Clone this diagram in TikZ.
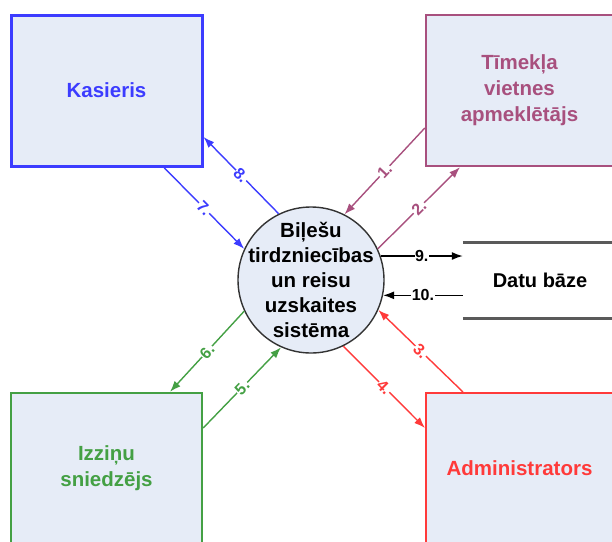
\documentclass[tikz,border=0pt]{standalone}
\usepackage{fontspec}
\setmainfont{Liberation Sans}
\usetikzlibrary{arrows.meta,calc}
\definecolor{fillc}{HTML}{E6ECF7}
\definecolor{cblue}{HTML}{3C3CFF}
\definecolor{cpurp}{HTML}{A8507E}
\definecolor{cgreen}{HTML}{44A044}
\definecolor{cred}{HTML}{FF3A3A}
\definecolor{cdark}{HTML}{333333}
\definecolor{cgray}{HTML}{5A5A5A}
\begin{document}
\begin{tikzpicture}[x=1pt,y=-1pt,
  ent/.style={rectangle, fill=fillc, minimum height=151pt, inner sep=0pt, align=center,
    font=\bfseries\fontsize{20.5}{26}\selectfont},
  flow/.style={line width=1.4pt, -{Latex[length=11pt,width=8pt]}},
  lbl/.style={midway, sloped, fill=white, inner sep=0.5pt, font=\bfseries\fontsize{16}{16}\selectfont},
  dbline/.style={draw=cgray, line width=2.8pt}
]
\useasboundingbox (0,0) rectangle (612,541);
\clip (0,0) rectangle (612,541);

\node[ent, draw=cblue, line width=3pt, text=cblue, minimum width=191pt] (kas) at (106.5,90.5) {Kasieris};
\node[ent, draw=cpurp, line width=2.4pt, text=cpurp, minimum width=187pt] (tim) at (519.5,90.5) {Tīmekļa\\vietnes\\apmeklētājs};
\node[ent, draw=cgreen, line width=2.4pt, text=cgreen, minimum width=191pt] (izz) at (106.5,468.5) {Izziņu\\sniedzējs};
\node[ent, draw=cred, line width=2pt, text=cred, minimum width=187pt] (adm) at (519.5,468.5) {Administrators};

\node[circle, draw=cdark, line width=1.4pt, fill=fillc, minimum size=146pt, inner sep=0pt,
  label={[align=center, inner sep=0pt, font=\bfseries\fontsize{20.5}{25}\selectfont]center:Biļešu\\tirdzniecības\\un reisu\\uzskaites\\sistēma}] (sys) at (311,280) {};

\node[minimum width=154pt, minimum height=75pt, inner sep=0pt, font=\bfseries\fontsize{20}{22}\selectfont] (db) at (540,280.5) {Datu bāze};
\draw[dbline] (db.north west) -- (db.north east);
\draw[dbline] (db.south west) -- (db.south east);

% blue
\draw[flow, cblue] (sys.116) -- node[lbl, text=cblue] {8.} (kas.east |- 0,137);
\draw[flow, cblue] (kas.south -| 164,0) -- node[lbl, text=cblue] {7.} (sys.155);
% purple
\draw[flow, cpurp] (tim.west |- 0,128) -- node[lbl, text=cpurp] {1.} (sys.63);
\draw[flow, cpurp] (sys.25) -- node[lbl, text=cpurp] {2.} (tim.south -| 460,0);
% database
\draw[flow, black] (sys.19) -- node[lbl] {9.} (sys.19 -| db.west);
\draw[flow, black, {Latex[length=11pt,width=8pt]}-] (sys.-12) -- node[lbl] {10.} (sys.-12 -| db.west);
% red
\draw[flow, cred] (adm.north -| 463,0) -- node[lbl, text=cred] {3.} (sys.-24);
\draw[flow, cred] (sys.-64) -- node[lbl, text=cred] {4.} (adm.west |- 0,428);
% green
\draw[flow, cgreen] (sys.-155) -- node[lbl, text=cgreen] {6.} (izz.north -| 170,0);
\draw[flow, cgreen] (izz.east |- 0,428) -- node[lbl, text=cgreen] {5.} (sys.-114);
\end{tikzpicture}
\end{document}
